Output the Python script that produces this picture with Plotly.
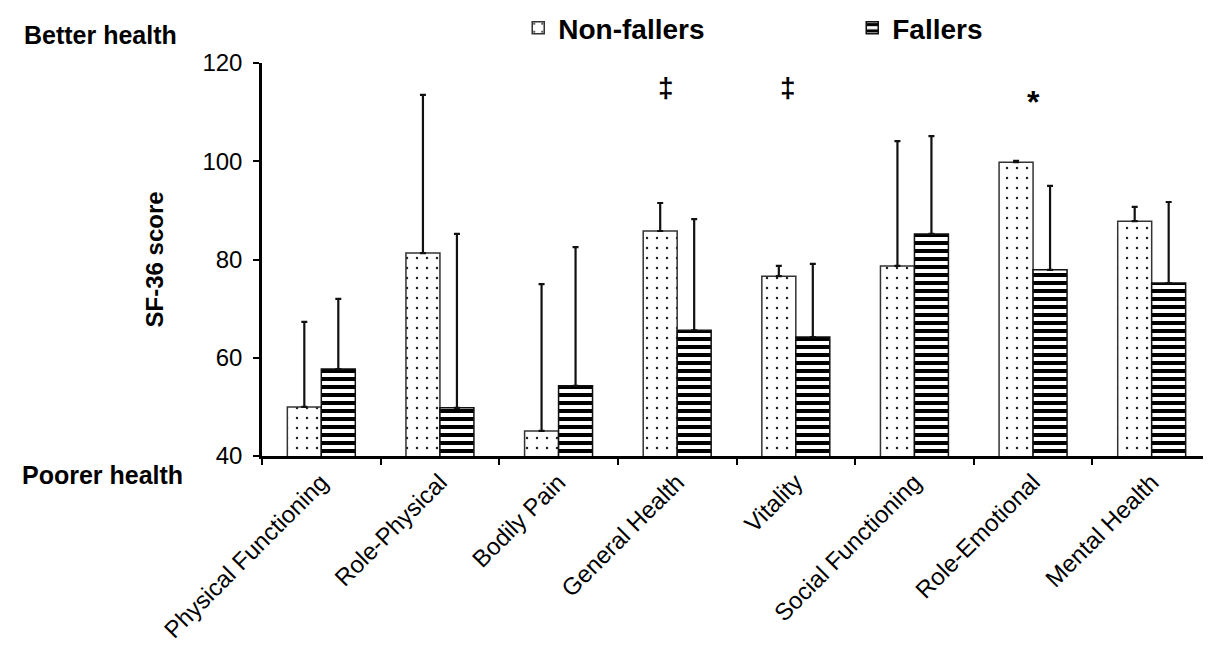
import plotly.graph_objects as go

categories = ["Physical Functioning", "Role-Physical", "Bodily Pain", "General Health",
              "Vitality", "Social Functioning", "Role-Emotional", "Mental Health"]
non_fallers = [50.0, 81.3, 45.1, 85.8, 76.6, 78.7, 99.8, 87.8]
non_fallers_sd = [17.3, 32.2, 29.9, 5.7, 2.1, 25.4, 0.3, 2.9]
fallers = [57.7, 49.8, 54.3, 65.6, 64.2, 85.2, 77.9, 75.2]
fallers_sd = [14.3, 35.4, 28.2, 22.6, 14.9, 19.9, 17.1, 16.5]
y_ticks = [40, 60, 80, 100, 120]
markers = [("General Health", "‡", 115.1, -11), ("Vitality", "‡", 115.1, -8),
           ("Role-Emotional", "*", 112.0, 0)]

FONT = "Liberation Sans, Arial, sans-serif"

fig = go.Figure()
fig.add_trace(go.Bar(
    name="<b>Non-fallers</b>", x=categories, y=non_fallers,
    marker=dict(color="white", line=dict(color="#333333", width=1.5),
                pattern=dict(shape=".", fgcolor="#222222", bgcolor="white", fgopacity=1,
                             fillmode="replace", size=10, solidity=0.05)),
    error_y=dict(type="data", symmetric=False, array=non_fallers_sd,
                 arrayminus=[0] * len(non_fallers_sd),
                 color="#111111", thickness=2.2, width=3),
))
fig.add_trace(go.Bar(
    name="<b>Fallers</b>", x=categories, y=fallers,
    marker=dict(color="white", line=dict(color="#111111", width=1.5),
                pattern=dict(shape="-", fgcolor="black", bgcolor="white", fgopacity=1,
                             fillmode="replace", size=8, solidity=0.5)),
    error_y=dict(type="data", symmetric=False, array=fallers_sd,
                 arrayminus=[0] * len(fallers_sd),
                 color="#111111", thickness=2.2, width=3),
))

annotations = []
for cat, sym, yv, xs in markers:
    annotations.append(dict(x=cat, y=yv, xref="x", yref="y", text="<b>" + sym + "</b>",
                            showarrow=False, xshift=xs,
                            font=dict(size=28 if sym != "*" else 32,
                                      color="black", family=FONT),
                            yanchor="middle"))
annotations.append(dict(x=-0.2529, y=1.071, xref="paper", yref="paper", text="<b>Better health</b>",
                        showarrow=False, xanchor="left", yanchor="middle",
                        font=dict(size=25, color="black", family=FONT)))
annotations.append(dict(x=-0.255, y=-0.048, xref="paper", yref="paper", text="<b>Poorer health</b>",
                        showarrow=False, xanchor="left", yanchor="middle",
                        font=dict(size=25, color="black", family=FONT)))
annotations.append(dict(x=-0.1128, y=0.5, xref="paper", yref="paper", text="<b>SF-36 score</b>",
                        showarrow=False, textangle=-90, xanchor="center", yanchor="middle",
                        font=dict(size=24, color="black", family=FONT)))

# page body has an 8px default margin, so the figure is offset by 8px
fig.update_layout(
    width=1203, height=662,
    margin=dict(l=254, r=0, t=55, b=214, autoexpand=False),
    paper_bgcolor="white", plot_bgcolor="white",
    font=dict(family=FONT, color="black"),
    barmode="group", bargap=0.427, bargroupgap=0,
    showlegend=True,
    legend=dict(orientation="h", x=0.27, y=1.089, xanchor="left", yanchor="middle",
                entrywidth=289, font=dict(size=28, color="black", family=FONT),
                itemwidth=30, bgcolor="rgba(0,0,0,0)"),
    annotations=annotations,
)

fig.update_xaxes(
    type="category", tickangle=-45, tickson="boundaries",
    ticks="outside", ticklen=6, tickwidth=2, tickcolor="black",
    showline=True, linecolor="black", linewidth=2.5,
    showgrid=False, zeroline=False,
    tickfont=dict(size=24, color="black", family=FONT),
    range=[-0.5, 7.5],
)
fig.update_yaxes(
    range=[40, 120], tickvals=y_ticks, ticktext=[str(v) for v in y_ticks],
    ticks="outside", ticklen=6, tickwidth=2, tickcolor="black",
    showline=True, linecolor="black", linewidth=2.5,
    showgrid=False, zeroline=False, ticklabelstandoff=6,
    tickfont=dict(size=24, color="black", family=FONT),
)

fig.write_html("out.html")
